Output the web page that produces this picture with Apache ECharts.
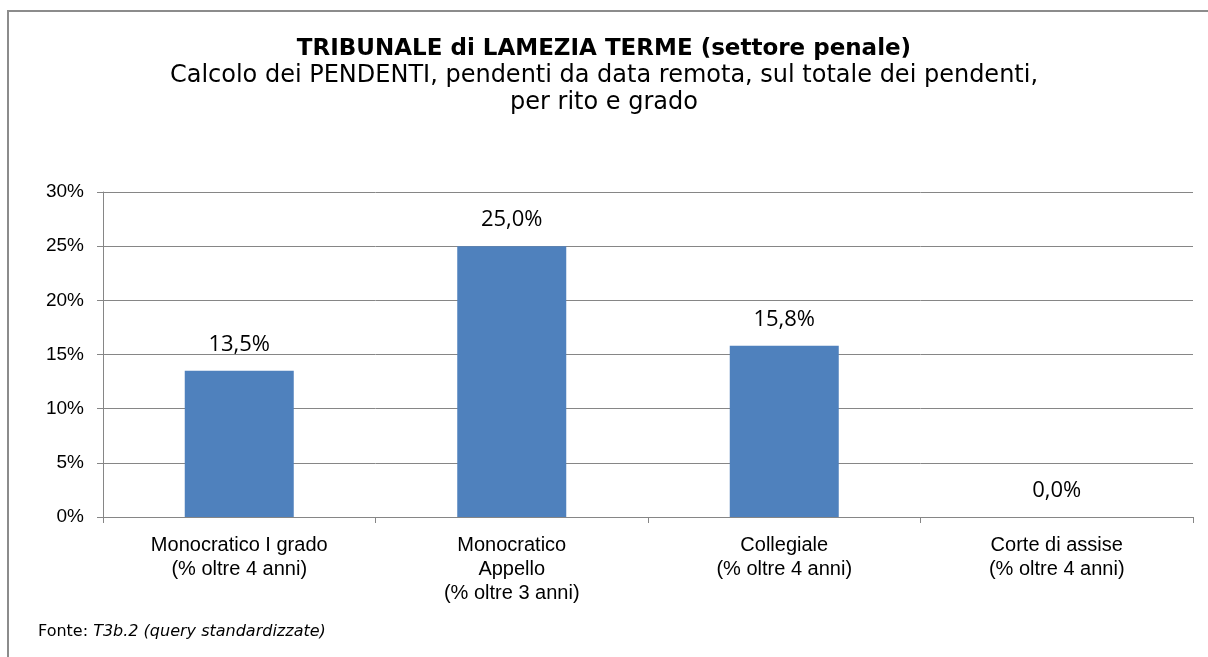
<!DOCTYPE html>
<html><head><meta charset="utf-8">
<script src="https://cdn.jsdelivr.net/npm/echarts@6/dist/echarts.min.js"></script>
<style>html,body{margin:0;padding:0;background:#fff}#c{width:1208px;height:657px}</style>
</head><body><div id="c"></div>
<script>
const categories = [
  "Monocratico I grado\n(% oltre 4 anni)",
  "Monocratico\nAppello\n(% oltre 3 anni)",
  "Collegiale\n(% oltre 4 anni)",
  "Corte di assise\n(% oltre 4 anni)"
];
const values = [0.135, 0.25, 0.158, 0.0];
const yTicks = [0, 0.05, 0.10, 0.15, 0.20, 0.25, 0.30];

const chart = echarts.init(document.getElementById('c'), null, {renderer:'canvas'});
chart.setOption({
  animation: false,
  backgroundColor: '#fff',
  title: [{
    text: 'TRIBUNALE di LAMEZIA TERME (settore penale)',
    left: 'center', top: 33,
    textStyle: {fontFamily: 'DejaVu Sans', fontWeight: 'bold', fontSize: 23, color: '#000'}
  },{
    text: 'Calcolo dei PENDENTI, pendenti da data remota, sul totale dei pendenti,\nper rito e grado',
    left: 'center', top: 57,
    textStyle: {fontFamily: 'DejaVu Sans', fontWeight: 'normal', fontSize: 24, color: '#000', lineHeight: 27}
  }],
  graphic: [{
    type: 'rect', shape: {x: 8, y: 11, width: 1220, height: 680},
    style: {fill: 'none', stroke: '#8c8c8c', lineWidth: 2}, silent: true
  },{
    type: 'text', left: 38, top: 624,
    style: {
      text: '{a|Fonte: }{b|T3b.2 (query standardizzate)}',
      rich: {
        a: {fontFamily: 'DejaVu Sans', fontSize: 16, fill: '#000'},
        b: {fontFamily: 'DejaVu Sans', fontSize: 16, fontStyle: 'italic', fill: '#000'}
      }
    }
  }],
  grid: {left: 103, right: 15, top: 192, bottom: 140},
  xAxis: {
    type: 'category', data: categories,
    axisLine: {lineStyle: {color: '#868686', width: 1}},
    axisTick: {show: true, length: 6, lineStyle: {color: '#868686'}},
    axisLabel: {fontFamily: 'Liberation Sans', fontSize: 20, color: '#000', lineHeight: 24, margin: 16, interval: 0}
  },
  yAxis: {
    type: 'value', min: 0, max: 0.3, interval: 0.05,
    axisLine: {show: true, lineStyle: {color: '#868686'}},
    axisTick: {show: true, length: 6, lineStyle: {color: '#868686'}},
    splitLine: {lineStyle: {color: '#868686', width: 1}},
    axisLabel: {
      fontFamily: 'Liberation Sans', fontSize: 19, color: '#000', margin: 19,
      formatter: v => Math.round(v * 100) + '%'
    }
  },
  series: [{
    type: 'bar', data: values, barWidth: '40%',
    itemStyle: {color: '#4f81bd'},
    label: {
      show: true, position: 'top', distance: 15,
      fontFamily: 'Open Sans', fontSize: 22, color: '#000',
      formatter: p => (p.value * 100).toFixed(1).replace('.', ',') + '%'
    }
  }]
});
</script></body></html>
